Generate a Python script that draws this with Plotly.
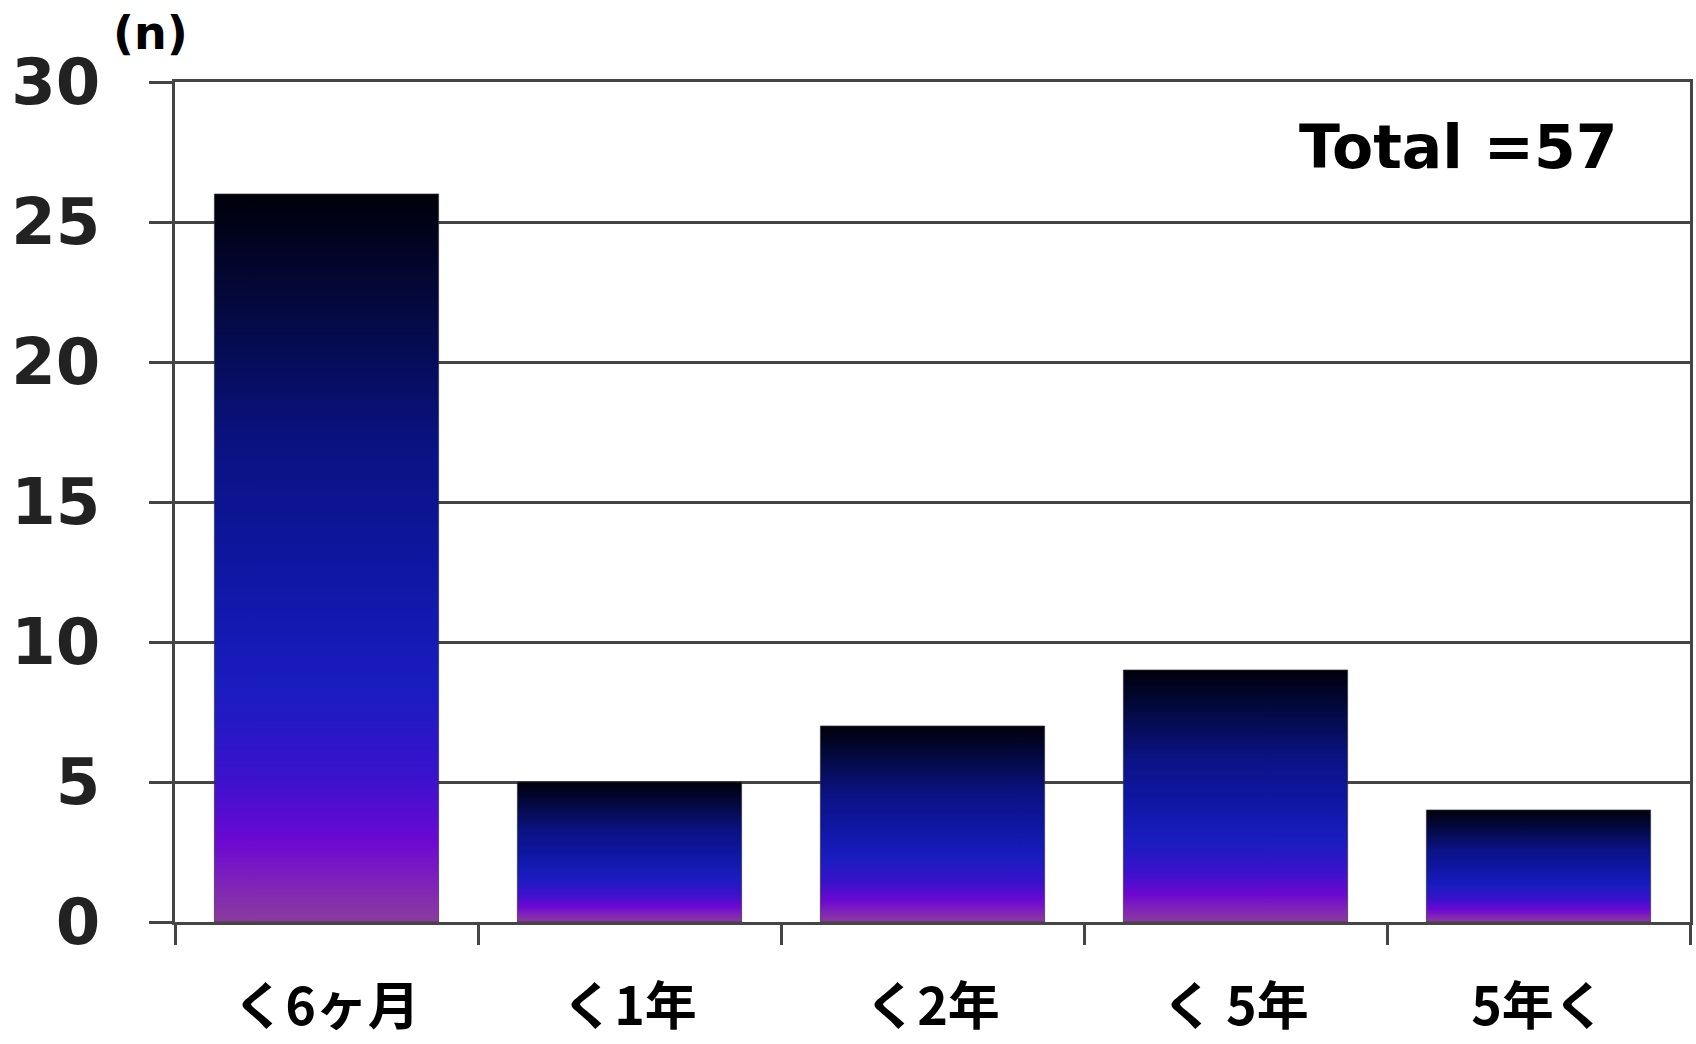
import plotly.graph_objects as go

# Duration categories and patient counts
categories = ["く6ヶ月", "く1年", "く2年", "く 5年", "5年く"]
counts = [26, 5, 7, 9, 4]
y_ticks = [0, 5, 10, 15, 20, 25, 30]
total_label = "Total =57"
unit_label = "(n)"

BAR_HALF = 0.37
AXIS_GRAY = "#454545"
HEAVY_FONT = "DejaVu Sans"

# Vertical gradient for each bar: 0 = bottom (violet) -> 1 = top (black)
GRADIENT = [
    [0.00, "#8a3c9c"],
    [0.05, "#8024b8"],
    [0.11, "#6c08d2"],
    [0.20, "#3a12cc"],
    [0.32, "#1a1cc0"],
    [0.50, "#0e16a0"],
    [0.65, "#0a1284"],
    [0.82, "#040a48"],
    [1.00, "#00000a"],
]

fig = go.Figure()

for i, v in enumerate(counts):
    x0, x1 = i - BAR_HALF, i + BAR_HALF
    fig.add_trace(go.Scatter(
        x=[x0, x1, x1, x0, x0],
        y=[0, 0, v, v, 0],
        mode="lines",
        fill="toself",
        fillgradient=dict(type="vertical", colorscale=GRADIENT),
        line=dict(width=1, color="rgba(50,50,50,0.7)"),
        hoverinfo="skip",
        showlegend=False,
    ))

fig.update_layout(
    width=1696,
    height=1044,
    margin=dict(l=175, r=6, t=82, b=122),
    paper_bgcolor="white",
    plot_bgcolor="white",
    showlegend=False,
)

fig.update_xaxes(
    automargin=False,
    range=[-0.5, len(categories) - 0.5],
    tickmode="array",
    tickvals=list(range(len(categories))),
    ticktext=categories,
    ticks="",
    ticklabelstandoff=38,
    tickfont=dict(family="Noto Sans CJK JP", size=52, color="black", weight="bold"),
    showgrid=False,
    zeroline=False,
    showline=True,
    linecolor=AXIS_GRAY,
    linewidth=3,
    mirror=True,
    minor=dict(ticks="outside", ticklen=20, tickwidth=3, tickcolor=AXIS_GRAY,
               tick0=0.5, dtick=1, showgrid=False),
)

fig.update_yaxes(
    automargin=False,
    range=[0, 30],
    tickmode="array",
    tickvals=y_ticks,
    ticktext=[str(t) for t in y_ticks],
    ticks="outside",
    ticklen=23,
    tickwidth=3,
    tickcolor=AXIS_GRAY,
    ticklabelstandoff=36,
    tickfont=dict(family=HEAVY_FONT, size=64, color="#222222", weight="bold"),
    showgrid=True,
    gridcolor=AXIS_GRAY,
    gridwidth=3,
    zeroline=False,
    showline=True,
    linecolor=AXIS_GRAY,
    linewidth=3,
    mirror=True,
)

fig.add_annotation(
    text=unit_label, xref="paper", yref="paper",
    x=-0.0165, y=1.0586, xanchor="center", yanchor="middle", showarrow=False,
    font=dict(family=HEAVY_FONT, size=46, color="black", weight="bold"),
)

fig.add_annotation(
    text=total_label, xref="paper", yref="paper",
    x=0.847, y=0.923, xanchor="center", yanchor="middle", showarrow=False,
    font=dict(family=HEAVY_FONT, size=60, color="black", weight="bold"),
)

fig.write_html("out.html")
